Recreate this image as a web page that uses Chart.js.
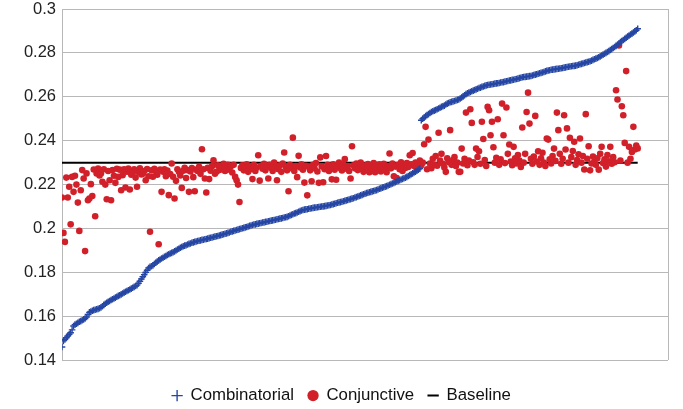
<!DOCTYPE html>
<html>
<head>
<meta charset="utf-8">
<script src="https://cdn.jsdelivr.net/npm/chart.js@4.4.1/dist/chart.umd.min.js"></script>
<style>
  html, body { margin: 0; padding: 0; background: #fff; }
</style>
</head>
<body>
<canvas id="myChart" width="683" height="409"></canvas>
<script>
// sorted scores, one per run
const combinatorial = [
  0.1460, 0.1488, 0.1494, 0.1502, 0.1510, 0.1518, 0.1525, 0.1538, 0.1556, 0.1562,
  0.1566, 0.1570, 0.1575, 0.1578, 0.1582, 0.1586, 0.1590, 0.1597, 0.1608, 0.1618,
  0.1622, 0.1625, 0.1628, 0.1630, 0.1632, 0.1634, 0.1637, 0.1640, 0.1646, 0.1652,
  0.1657, 0.1662, 0.1666, 0.1670, 0.1674, 0.1678, 0.1681, 0.1685, 0.1689, 0.1693,
  0.1696, 0.1700, 0.1704, 0.1708, 0.1712, 0.1715, 0.1719, 0.1722, 0.1726, 0.1730,
  0.1734, 0.1738, 0.1742, 0.1750, 0.1760, 0.1770, 0.1780, 0.1790, 0.1800, 0.1810,
  0.1820, 0.1825, 0.1828, 0.1832, 0.1838, 0.1844, 0.1850, 0.1855, 0.1859, 0.1863,
  0.1867, 0.1871, 0.1875, 0.1879, 0.1883, 0.1886, 0.1889, 0.1892, 0.1896, 0.1900,
  0.1904, 0.1908, 0.1912, 0.1916, 0.1919, 0.1922, 0.1924, 0.1927, 0.1930, 0.1932,
  0.1935, 0.1937, 0.1939, 0.1941, 0.1943, 0.1944, 0.1946, 0.1948, 0.1949, 0.1951,
  0.1952, 0.1954, 0.1956, 0.1958, 0.1959, 0.1961, 0.1963, 0.1965, 0.1966, 0.1968,
  0.1970, 0.1972, 0.1974, 0.1976, 0.1978, 0.1980, 0.1982, 0.1985, 0.1987, 0.1989,
  0.1991, 0.1993, 0.1995, 0.1997, 0.1999, 0.2001, 0.2003, 0.2005, 0.2007, 0.2009,
  0.2012, 0.2014, 0.2016, 0.2018, 0.2019, 0.2021, 0.2022, 0.2024, 0.2025, 0.2027,
  0.2028, 0.2030, 0.2031, 0.2033, 0.2034, 0.2036, 0.2037, 0.2039, 0.2040, 0.2042,
  0.2043, 0.2045, 0.2046, 0.2048, 0.2050, 0.2051, 0.2053, 0.2056, 0.2059, 0.2062,
  0.2065, 0.2068, 0.2070, 0.2073, 0.2076, 0.2079, 0.2082, 0.2084, 0.2086, 0.2087,
  0.2088, 0.2090, 0.2091, 0.2092, 0.2094, 0.2095, 0.2096, 0.2097, 0.2098, 0.2099,
  0.2100, 0.2101, 0.2102, 0.2103, 0.2105, 0.2106, 0.2107, 0.2109, 0.2111, 0.2113,
  0.2115, 0.2117, 0.2119, 0.2120, 0.2122, 0.2124, 0.2126, 0.2128, 0.2130, 0.2132,
  0.2134, 0.2136, 0.2138, 0.2141, 0.2143, 0.2146, 0.2148, 0.2151, 0.2153, 0.2156,
  0.2158, 0.2161, 0.2163, 0.2165, 0.2167, 0.2169, 0.2171, 0.2173, 0.2175, 0.2178,
  0.2181, 0.2183, 0.2186, 0.2188, 0.2191, 0.2193, 0.2196, 0.2199, 0.2202, 0.2205,
  0.2208, 0.2211, 0.2214, 0.2217, 0.2220, 0.2223, 0.2226, 0.2229, 0.2232, 0.2235,
  0.2239, 0.2243, 0.2247, 0.2251, 0.2255, 0.2259, 0.2263, 0.2268, 0.2273, 0.2493,
  0.2500, 0.2506, 0.2512, 0.2517, 0.2521, 0.2526, 0.2531, 0.2534, 0.2537, 0.2540,
  0.2543, 0.2547, 0.2550, 0.2554, 0.2557, 0.2560, 0.2565, 0.2569, 0.2572, 0.2575,
  0.2577, 0.2579, 0.2581, 0.2583, 0.2586, 0.2588, 0.2592, 0.2597, 0.2602, 0.2607,
  0.2612, 0.2616, 0.2619, 0.2622, 0.2625, 0.2628, 0.2631, 0.2634, 0.2637, 0.2640,
  0.2642, 0.2645, 0.2647, 0.2650, 0.2652, 0.2654, 0.2655, 0.2656, 0.2657, 0.2658,
  0.2660, 0.2661, 0.2662, 0.2663, 0.2665, 0.2666, 0.2667, 0.2669, 0.2671, 0.2672,
  0.2674, 0.2675, 0.2677, 0.2678, 0.2680, 0.2681, 0.2683, 0.2685, 0.2687, 0.2689,
  0.2690, 0.2691, 0.2692, 0.2693, 0.2694, 0.2695, 0.2697, 0.2699, 0.2701, 0.2703,
  0.2705, 0.2707, 0.2709, 0.2711, 0.2713, 0.2716, 0.2718, 0.2720, 0.2721, 0.2723,
  0.2724, 0.2725, 0.2726, 0.2727, 0.2728, 0.2729, 0.2730, 0.2731, 0.2733, 0.2734,
  0.2736, 0.2737, 0.2738, 0.2739, 0.2740, 0.2741, 0.2742, 0.2744, 0.2746, 0.2748,
  0.2750, 0.2752, 0.2754, 0.2756, 0.2758, 0.2760, 0.2762, 0.2765, 0.2768, 0.2771,
  0.2774, 0.2777, 0.2780, 0.2784, 0.2788, 0.2792, 0.2796, 0.2800, 0.2804, 0.2808,
  0.2813, 0.2817, 0.2822, 0.2827, 0.2832, 0.2837, 0.2843, 0.2849, 0.2854, 0.2859,
  0.2864, 0.2869, 0.2874, 0.2879, 0.2884, 0.2888, 0.2893, 0.2898, 0.2903, 0.2910
];

const conjunctive = [
  0.2141, 0.1980, 0.1939, 0.2232, 0.2141, 0.2190, 0.2019, 0.2235, 0.2167, 0.2240,
  0.2200, 0.2118, 0.1989, 0.2174, 0.2266, 0.2228, 0.1897, 0.2251, 0.2129, 0.2137,
  0.2202, 0.2148, 0.2269, 0.2056, 0.2251, 0.2273, 0.2242, 0.2251, 0.2213, 0.2270,
  0.2200, 0.2133, 0.2262, 0.2220, 0.2129, 0.2266, 0.2240, 0.2208, 0.2272, 0.2235,
  0.2268, 0.2174, 0.2243, 0.2270, 0.2187, 0.2259, 0.2273, 0.2178, 0.2245, 0.2254,
  0.2270, 0.2232, 0.2190, 0.2257, 0.2274, 0.2246, 0.2250, 0.2262, 0.2220, 0.2271,
  0.2238, 0.1985, 0.2265, 0.2236, 0.2272, 0.2261, 0.2245, 0.1928, 0.2268, 0.2167,
  0.2259, 0.2270, 0.2238, 0.2264, 0.2152, 0.2248, 0.2296, 0.2236, 0.2137, 0.2217,
  0.2270, 0.2258, 0.2242, 0.2185, 0.2263, 0.2276, 0.2230, 0.2266, 0.2167, 0.2260,
  0.2275, 0.2234, 0.2170, 0.2268, 0.2262, 0.2281, 0.2249, 0.2361, 0.2270, 0.2228,
  0.2164, 0.2276, 0.2225, 0.2263, 0.2284, 0.2311, 0.2250, 0.2258, 0.2288, 0.2266,
  0.2282, 0.2270, 0.2295, 0.2262, 0.2278, 0.2290, 0.2268, 0.2284, 0.2255, 0.2290,
  0.2235, 0.2220, 0.2200, 0.2121, 0.2276, 0.2288, 0.2265, 0.2280, 0.2293, 0.2258,
  0.2284, 0.2270, 0.2225, 0.2290, 0.2262, 0.2278, 0.2334, 0.2218, 0.2286, 0.2272,
  0.2295, 0.2265, 0.2281, 0.2228, 0.2290, 0.2276, 0.2262, 0.2300, 0.2282, 0.2220,
  0.2270, 0.2288, 0.2258, 0.2296, 0.2346, 0.2281, 0.2265, 0.2170, 0.2290, 0.2275,
  0.2414, 0.2262, 0.2285, 0.2234, 0.2331, 0.2278, 0.2293, 0.2268, 0.2209, 0.2286,
  0.2151, 0.2280, 0.2265, 0.2215, 0.2290, 0.2274, 0.2298, 0.2260, 0.2208, 0.2324,
  0.2283, 0.2211, 0.2270, 0.2330, 0.2290, 0.2262, 0.2279, 0.2224, 0.2293, 0.2268,
  0.2222, 0.2286, 0.2300, 0.2275, 0.2264, 0.2291, 0.2316, 0.2272, 0.2284, 0.2262,
  0.2228, 0.2375, 0.2288, 0.2274, 0.2296, 0.2266, 0.2281, 0.2300, 0.2270, 0.2258,
  0.2287, 0.2275, 0.2294, 0.2256, 0.2282, 0.2268, 0.2298, 0.2256, 0.2285, 0.2272,
  0.2292, 0.2260, 0.2280, 0.2295, 0.2270, 0.2256, 0.2285, 0.2342, 0.2274, 0.2296,
  0.2238, 0.2282, 0.2230, 0.2290, 0.2270, 0.2302, 0.2262, 0.2286, 0.2276, 0.2298,
  0.2280, 0.2334, 0.2292, 0.2344, 0.2285, 0.2300, 0.2275, 0.2296, 0.2310, 0.2288,
  0.2300, 0.2384, 0.2463, 0.2270, 0.2405, 0.2296, 0.2275, 0.2318, 0.2290, 0.2330,
  0.2286, 0.2436, 0.2310, 0.2340, 0.2295, 0.2278, 0.2258, 0.2320, 0.2302, 0.2448,
  0.2290, 0.2312, 0.2325, 0.2285, 0.2300, 0.2258, 0.2258, 0.2364, 0.2296, 0.2318,
  0.2528, 0.2288, 0.2310, 0.2543, 0.2481, 0.2302, 0.2290, 0.2364, 0.2326, 0.2352,
  0.2295, 0.2486, 0.2408, 0.2312, 0.2285, 0.2554, 0.2539, 0.2425, 0.2486, 0.2370,
  0.2300, 0.2322, 0.2498, 0.2290, 0.2315, 0.2569, 0.2425, 0.2298, 0.2551, 0.2340,
  0.2383, 0.2305, 0.2288, 0.2372, 0.2320, 0.2296, 0.2335, 0.2310, 0.2280, 0.2460,
  0.2300, 0.2340, 0.2531, 0.2619, 0.2478, 0.2318, 0.2295, 0.2328, 0.2513, 0.2305,
  0.2352, 0.2290, 0.2320, 0.2345, 0.2300, 0.2285, 0.2410, 0.2405, 0.2315, 0.2296,
  0.2330, 0.2364, 0.2308, 0.2528, 0.2448, 0.2340, 0.2295, 0.2318, 0.2516, 0.2360,
  0.2456, 0.2300, 0.2413, 0.2325, 0.2353, 0.2395, 0.2290, 0.2312, 0.2338, 0.2410,
  0.2300, 0.2330, 0.2269, 0.2521, 0.2318, 0.2375, 0.2265, 0.2296, 0.2328, 0.2305,
  0.2290, 0.2320, 0.2268, 0.2340, 0.2372, 0.2298, 0.2315, 0.2282, 0.2335, 0.2306,
  0.2372, 0.2295, 0.2325, 0.2302, 0.2630, 0.2588, 0.2834, 0.2310, 0.2557, 0.2516,
  0.2390, 0.2717, 0.2300, 0.2372, 0.2318, 0.2349, 0.2463, 0.2360, 0.2378, 0.2365
];

const baseline = 0.23;
const yTicks = [0.14, 0.16, 0.18, 0.2, 0.22, 0.24, 0.26, 0.28, 0.3];
const xMax = 420;

const gridColor = '#b8b8b8';
const blue = '#2646a4';
const red = '#d2202a';

const toPoints = arr => arr.map((v, i) => ({ x: i, y: v }));

const ctx = document.getElementById('myChart').getContext('2d');
const myChart = new Chart(ctx, {
  type: 'scatter',
  data: {
    datasets: [
      {
        label: 'Combinatorial',
        data: toPoints(combinatorial),
        pointStyle: 'cross',
        pointRadius: 3.3,
        borderWidth: 1.4,
        borderColor: blue,
        backgroundColor: blue
      },
      {
        label: 'Conjunctive',
        data: toPoints(conjunctive),
        pointStyle: 'circle',
        pointRadius: 3.3,
        borderWidth: 0,
        borderColor: red,
        backgroundColor: red
      },
      {
        label: 'Baseline',
        data: [{ x: 0, y: baseline }, { x: combinatorial.length - 1, y: baseline }],
        showLine: true,
        pointStyle: 'line',
        pointRadius: 0,
        borderWidth: 2,
        borderColor: '#000',
        backgroundColor: '#000'
      }
    ]
  },
  options: {
    responsive: false,
    animation: false,
    devicePixelRatio: 1,
    layout: { padding: { left: 15, right: 15, top: 9, bottom: -5 } },
    scales: {
      x: {
        type: 'linear',
        min: 0,
        max: xMax,
        afterBuildTicks: s => { s.ticks = [{ value: 0 }, { value: xMax }]; },
        afterFit: s => { s.height = 13; },
        ticks: { display: false },
        grid: { color: gridColor, drawTicks: false },
        border: { display: false }
      },
      y: {
        min: 0.14,
        max: 0.3,
        afterBuildTicks: s => { s.ticks = yTicks.map(v => ({ value: v })); },
        afterFit: s => { s.width = 47; s.paddingTop = 0; s.paddingBottom = 0; },
        ticks: {
          color: '#222',
          padding: 6,
          font: { family: 'Liberation Sans', size: 16.5 },
          callback: v => String(Number(v.toFixed(2)))
        },
        grid: { color: gridColor, drawTicks: false },
        border: { display: false }
      }
    },
    plugins: {
      tooltip: { enabled: false },
      legend: {
        position: 'bottom',
        labels: {
          usePointStyle: true,
          boxWidth: 10,
          boxHeight: 8,
          padding: 14,
          color: '#111',
          font: { family: 'Liberation Sans', size: 16.8 }
        }
      }
    }
  }
});
</script>
</body>
</html>
